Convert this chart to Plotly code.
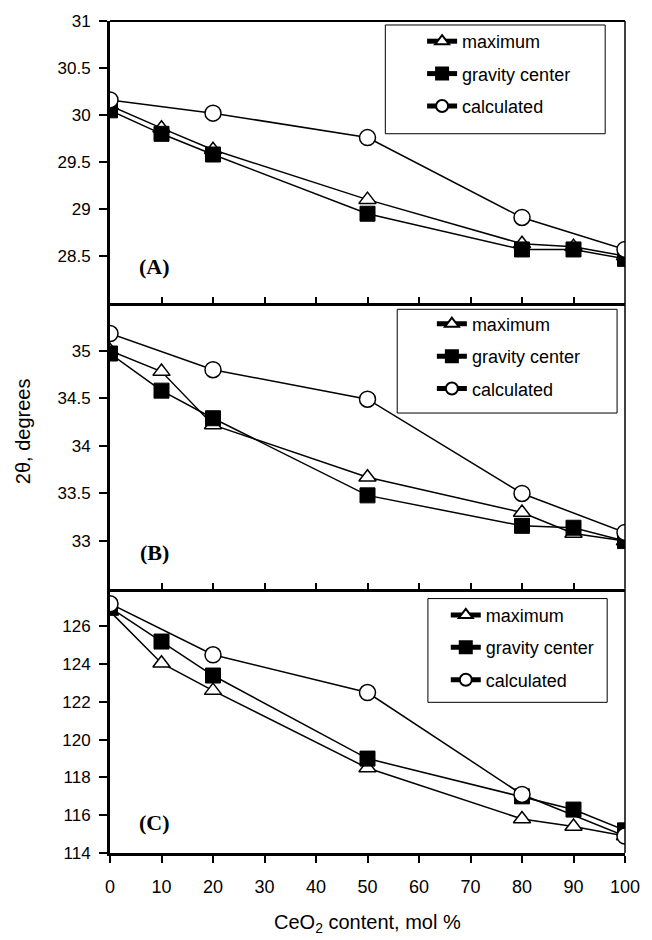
import plotly.graph_objects as go

x_all = [0, 10, 20, 50, 80, 90, 100]
x_calc = [0, 20, 50, 80, 100]

# Panel A
a_max = [30.10, 29.86, 29.63, 29.10, 28.63, 28.60, 28.50]
a_grav = [30.05, 29.80, 29.58, 28.95, 28.57, 28.57, 28.47]
a_calc = [30.16, 30.02, 29.76, 28.91, 28.57]
# Panel B
b_max = [35.00, 34.78, 34.22, 33.67, 33.30, 33.08, 33.00]
b_grav = [34.97, 34.58, 34.29, 33.48, 33.16, 33.14, 33.00]
b_calc = [35.18, 34.80, 34.49, 33.50, 33.09]
# Panel C
c_max = [126.8, 124.05, 122.6, 118.5, 115.8, 115.4, 114.9]
c_grav = [127.0, 125.2, 123.4, 119.0, 117.0, 116.3, 115.2]
c_calc = [127.2, 124.5, 122.5, 117.1, 114.9]

names = ["maximum", "gravity center", "calculated"]
x_ticks = list(range(0, 101, 10))

a_ticks = [28.5, 29, 29.5, 30, 30.5, 31]
b_ticks = [33, 33.5, 34, 34.5, 35]
c_ticks = [114, 116, 118, 120, 122, 124, 126]

FONT = "Liberation Sans, Arial, sans-serif"

fig = go.Figure()

panels = [
    ("", "legend", a_max, a_grav, a_calc),
    ("2", "legend2", b_max, b_grav, b_calc),
    ("3", "legend3", c_max, c_grav, c_calc),
]

for idx, (sfx, leg, ymax, ygrav, ycalc) in enumerate(panels):
    xa = "x" + sfx
    ya = "y" + sfx
    common = dict(xaxis=xa, yaxis=ya, mode="lines+markers",
                  line=dict(color="black", width=1.5), legend=leg)
    fig.add_trace(go.Scatter(x=x_all, y=ymax, name=names[0], legendgroup=f"{idx}a",
                             marker=dict(symbol="triangle-up", size=15, color="white",
                                         line=dict(color="black", width=1.5)), **common))
    fig.add_trace(go.Scatter(x=x_all, y=ygrav, name=names[1], legendgroup=f"{idx}b",
                             marker=dict(symbol="square", size=15, color="black",
                                         line=dict(color="black", width=1)), **common))
    fig.add_trace(go.Scatter(x=x_calc, y=ycalc, name=names[2], legendgroup=f"{idx}c",
                             marker=dict(symbol="circle", size=16, color="white",
                                         line=dict(color="black", width=1.5)), **common))

xcommon = dict(range=[0, 100], showline=True, linecolor="black", linewidth=3,
               tickvals=x_ticks, tickcolor="black", tickwidth=2, showgrid=False,
               zeroline=False, tickfont=dict(family=FONT, size=18, color="black"))
ycommon = dict(showline=True, linecolor="black", linewidth=3, ticks="outside",
               ticklen=8, tickwidth=2, tickcolor="black", showgrid=False, zeroline=False,
               tickfont=dict(family=FONT, size=17, color="black"), ticklabelstandoff=5)

fig.update_layout(
    width=652, height=940,
    margin=dict(l=110, r=22, t=19, b=87),
    paper_bgcolor="white", plot_bgcolor="white",
    font=dict(family=FONT, color="black"),
    xaxis=dict(**xcommon, anchor="y", ticks="inside", ticklen=6, showticklabels=False),
    xaxis2=dict(**xcommon, anchor="y2", ticks="inside", ticklen=6, showticklabels=False),
    xaxis3=dict(**xcommon, anchor="y3", ticks="outside", ticklen=7, showticklabels=True,
                ticklabelstandoff=8),
    yaxis=dict(**ycommon, domain=[0.661, 1.0], range=[28, 31], tickvals=a_ticks,
               anchor="x"),
    yaxis2=dict(**ycommon, domain=[0.3177, 0.661], range=[32.5, 35.5], tickvals=b_ticks,
                anchor="x2"),
    yaxis3=dict(**ycommon, domain=[0, 0.3177], range=[114, 128], tickvals=c_ticks,
                anchor="x3"),
)

leg_style = dict(bgcolor="rgba(0,0,0,0)", borderwidth=0,
                 font=dict(family=FONT, size=18, color="black"),
                 xanchor="left", yanchor="top", tracegroupgap=6, itemsizing="constant")
fig.update_layout(
    legend=dict(x=0.606, y=0.9976, **leg_style),
    legend2=dict(x=0.625, y=0.658, **leg_style),
    legend3=dict(x=0.652, y=0.308, **leg_style),
)

shapes = []
# thin top / right frame lines
for sfx, top in [("", True), ("2", False), ("3", False)]:
    xr = "x" + sfx + " domain"
    yr = "y" + sfx + " domain"
    shapes.append(dict(type="line", xref=xr, yref=yr, x0=1, x1=1, y0=0, y1=1,
                       line=dict(color="black", width=1.5)))
    if top:
        shapes.append(dict(type="line", xref=xr, yref=yr, x0=0, x1=1, y0=1, y1=1,
                           line=dict(color="black", width=2)))
# legend boxes
for bx0, bx1, by0, by1 in [(0.5346, 0.9615, 0.8645, 0.9952),
                           (0.5577, 0.9846, 0.5288, 0.6535),
                           (0.6173, 0.9654, 0.1811, 0.3058)]:
    shapes.append(dict(type="rect", xref="paper", yref="paper", x0=bx0, x1=bx1,
                       y0=by0, y1=by1, fillcolor="white", layer="above",
                       line=dict(color="black", width=1)))
fig.update_layout(shapes=shapes)

annotations = []
for lab, yy in [("(A)", 0.705), ("(B)", 0.361), ("(C)", 0.037)]:
    annotations.append(dict(text=f"<b>{lab}</b>", x=0.0865, y=yy, xref="paper", yref="paper",
                            showarrow=False, xanchor="center", yanchor="middle",
                            font=dict(family="Liberation Serif, Times New Roman, serif",
                                      size=22, color="black")))
annotations.append(dict(text="2θ, degrees", x=-0.169, y=0.507, xref="paper", yref="paper",
                        showarrow=False, textangle=-90, xanchor="center", yanchor="middle",
                        font=dict(family=FONT, size=20, color="black")))
annotations.append(dict(text="CeO<sub>2</sub> content, mol %", x=0.5, y=-0.085,
                        xref="paper", yref="paper", showarrow=False,
                        xanchor="center", yanchor="middle",
                        font=dict(family=FONT, size=20, color="black")))
fig.update_layout(annotations=annotations)

fig.write_html("out.html", config={"displayModeBar": False},
               post_script="document.body.style.margin='0';document.body.style.overflow='hidden';")
